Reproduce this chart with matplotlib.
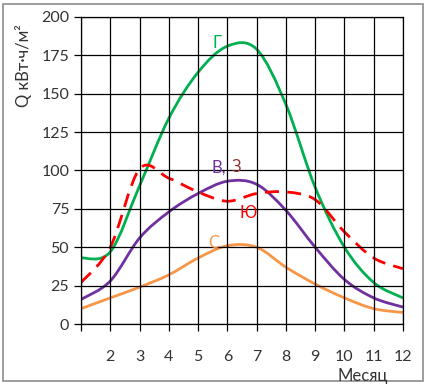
import matplotlib.pyplot as plt
from matplotlib.path import Path
from matplotlib.patches import PathPatch, Rectangle

plt.rcParams['font.family'] = ['Lato', 'DejaVu Sans']

months = [1, 2, 3, 4, 5, 6, 7, 8, 9, 10, 11, 12]
tick_labels = ['', '2', '3', '4', '5', '6', '7', '8', '9', '10', '11', '12']
horiz = [43, 47, 90, 134, 164, 181, 179, 143, 89, 50, 27, 17]      # Г
south = [27, 50, 101, 95, 86, 80, 85, 86, 81, 60, 43, 36]         # Ю
east_west = [16, 28, 56, 73, 85, 93, 91, 74, 50, 29, 17, 11]      # В, З
north = [10, 17, 24, 32, 43, 51, 50, 37, 26, 17, 10, 7.5]         # С


def smooth_path(xs, ys):
    # excel-like smoothed line: catmull-rom as cubic bezier
    verts = [(xs[0], ys[0])]
    codes = [Path.MOVETO]
    n = len(xs)
    for i in range(n - 1):
        x0, y0 = (xs[i - 1], ys[i - 1]) if i > 0 else (xs[i], ys[i])
        x1, y1 = xs[i], ys[i]
        x2, y2 = xs[i + 1], ys[i + 1]
        x3, y3 = (xs[i + 2], ys[i + 2]) if i + 2 < n else (x2, y2)
        verts += [(x1 + (x2 - x0) / 6, y1 + (y2 - y0) / 6),
                  (x2 - (x3 - x1) / 6, y2 - (y3 - y1) / 6),
                  (x2, y2)]
        codes += [Path.CURVE4] * 3
    return Path(verts, codes)


fig = plt.figure(figsize=(4.32, 3.85), dpi=100)
fig.patches.append(Rectangle((3 / 432, 4 / 385), 420 / 432, 377 / 385,
                             transform=fig.transFigure, fill=False,
                             edgecolor='#8c8c8c', lw=1.2))
ax = fig.add_axes([81 / 432, 61 / 385, 322 / 432, 307 / 385])

ax.set_xlim(1, 12)
ax.set_ylim(0, 200)
ax.set_xticks(months)
ax.set_xticklabels(tick_labels)
ax.set_yticks(range(0, 201, 25))
ax.grid(True, color='black', lw=0.9)
for s in ax.spines.values():
    s.set_color('black')
    s.set_linewidth(0.9)
ax.tick_params(axis='both', colors='black', labelcolor='#333333',
               labelsize=11.5, length=5, width=0.9)
ax.tick_params(axis='x', pad=14)

ax.add_patch(PathPatch(smooth_path(months, horiz), fill=False,
                       edgecolor='#00b050', lw=2))
ax.add_patch(PathPatch(smooth_path(months, east_west), fill=False,
                       edgecolor='#7030a0', lw=2))
ax.add_patch(PathPatch(smooth_path(months, north), fill=False,
                       edgecolor='#f79646', lw=2))
ax.add_patch(PathPatch(smooth_path(months, south), fill=False,
                       edgecolor='#ff0000', lw=2, linestyle=(0, (5, 3))))

ax.text(5.65, 183, 'Г', color='#00b050', fontsize=12, ha='center', va='center')
ax.text(5.7, 102, 'В,', color='#7030a0', fontsize=12, ha='center', va='center')
ax.text(6.3, 102, 'З', color='#953735', fontsize=12, ha='center', va='center')
ax.text(6.7, 72, 'Ю', color='#ff0000', fontsize=12, ha='center', va='center')
ax.text(5.55, 53, 'С', color='#f79646', fontsize=12, ha='center', va='center')

fig.text(23 / 432, 1 - 66 / 385, 'Q кВт·ч/м²', rotation=90, fontsize=12,
         color='#333333', ha='center', va='center')
fig.text(363 / 432, 1 - 376 / 385, 'Месяц', fontsize=12,
         color='#333333', ha='center', va='center')

fig.savefig('out.png', dpi=100)
